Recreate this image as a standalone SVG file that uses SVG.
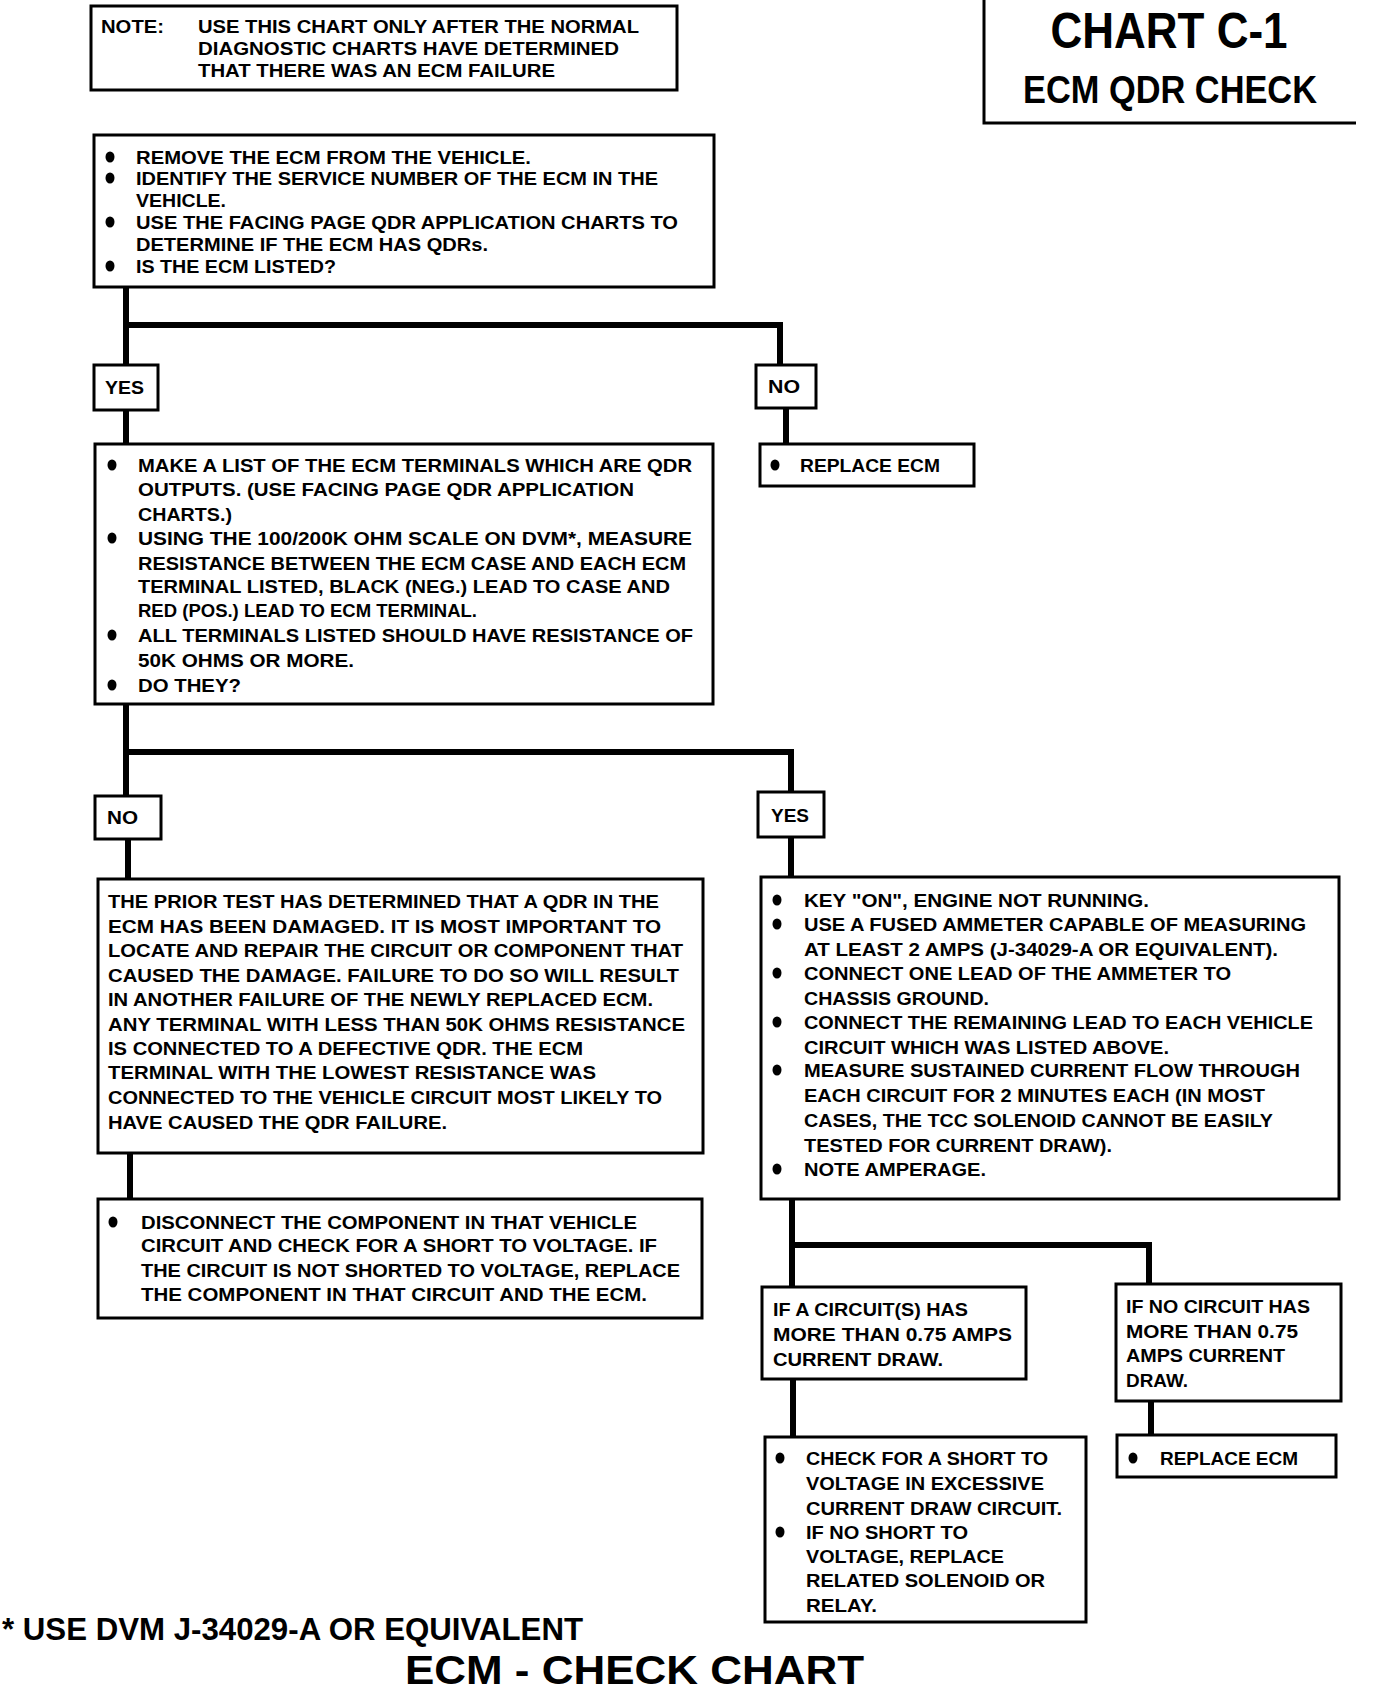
<svg xmlns="http://www.w3.org/2000/svg" width="1376" height="1694" viewBox="0 0 1376 1694">
<style>
.box{fill:#fff;stroke:#000;stroke-width:3}
.c{fill:none;stroke:#000;stroke-width:6;stroke-linecap:butt;stroke-linejoin:miter}
.t{font-family:"Liberation Sans",Arial,sans-serif;font-weight:bold;font-size:19px;fill:#000}
.b{fill:#000}
</style>
<rect width="1376" height="1694" fill="#fff"/>
<g id="connectors">
<path class="c" d="M126 287 V365 M126 325 H780 V365"/>
<path class="c" d="M126 410 V444 M786 408 V444"/>
<path class="c" d="M126 704 V796 M126 752 H791 V792"/>
<path class="c" d="M128 839 V879 M791 837 V877"/>
<path class="c" d="M130 1153 V1199"/>
<path class="c" d="M792 1199 V1287 M792 1245 H1149 V1284"/>
<path class="c" d="M793 1379 V1437"/>
<path class="c" d="M1151 1401 V1435"/>
</g>
<g id="note">
<rect class="box" x="91" y="6" width="586" height="84"/>
<text class="t" x="101" y="33" textLength="63" lengthAdjust="spacingAndGlyphs">NOTE:</text>
<text class="t" x="198" y="33" textLength="441" lengthAdjust="spacingAndGlyphs">USE THIS CHART ONLY AFTER THE NORMAL</text>
<text class="t" x="198" y="55" textLength="421" lengthAdjust="spacingAndGlyphs">DIAGNOSTIC CHARTS HAVE DETERMINED</text>
<text class="t" x="198" y="77" textLength="357" lengthAdjust="spacingAndGlyphs">THAT THERE WAS AN ECM FAILURE</text>
</g>
<g id="title">
<path d="M984 0 V123 H1356" fill="none" stroke="#000" stroke-width="3"/>
<text x="1169" y="48" text-anchor="middle" font-family="Liberation Sans,Arial,sans-serif" font-weight="bold" font-size="50" textLength="237" lengthAdjust="spacingAndGlyphs">CHART C-1</text>
<text x="1170" y="103" text-anchor="middle" font-family="Liberation Sans,Arial,sans-serif" font-weight="bold" font-size="39" textLength="294" lengthAdjust="spacingAndGlyphs">ECM QDR CHECK</text>
</g>
<g id="box1">
<rect class="box" x="94" y="135" width="620" height="152"/>
<ellipse class="b" cx="110" cy="157" rx="4.5" ry="5.5"/>
<ellipse class="b" cx="110" cy="178" rx="4.5" ry="5.5"/>
<ellipse class="b" cx="110" cy="222" rx="4.5" ry="5.5"/>
<ellipse class="b" cx="110" cy="266" rx="4.5" ry="5.5"/>
<text class="t" x="136" y="164" textLength="395" lengthAdjust="spacingAndGlyphs">REMOVE THE ECM FROM THE  VEHICLE.</text>
<text class="t" x="136" y="185" textLength="522" lengthAdjust="spacingAndGlyphs">IDENTIFY THE SERVICE NUMBER OF THE ECM IN THE</text>
<text class="t" x="136" y="207" textLength="90" lengthAdjust="spacingAndGlyphs">VEHICLE.</text>
<text class="t" x="136" y="229" textLength="542" lengthAdjust="spacingAndGlyphs">USE THE FACING PAGE QDR APPLICATION CHARTS TO</text>
<text class="t" x="136" y="251" textLength="352" lengthAdjust="spacingAndGlyphs">DETERMINE IF THE ECM HAS QDRs.</text>
<text class="t" x="136" y="273" textLength="200" lengthAdjust="spacingAndGlyphs">IS THE ECM LISTED?</text>
</g>
<g id="yes1">
<rect class="box" x="94" y="365" width="64" height="45"/>
<text class="t" x="105" y="394" textLength="39" lengthAdjust="spacingAndGlyphs">YES</text>
</g>
<g id="no1">
<rect class="box" x="756" y="365" width="60" height="43"/>
<text class="t" x="768" y="393" textLength="32" lengthAdjust="spacingAndGlyphs">NO</text>
</g>
<g id="replace1">
<rect class="box" x="760" y="444" width="214" height="42"/>
<ellipse class="b" cx="775" cy="465" rx="4.5" ry="5.5"/>
<text class="t" x="800" y="472" textLength="140" lengthAdjust="spacingAndGlyphs">REPLACE ECM</text>
</g>
<g id="box2">
<rect class="box" x="95" y="444" width="618" height="260"/>
<ellipse class="b" cx="112" cy="465" rx="4.5" ry="5.5"/>
<ellipse class="b" cx="112" cy="538" rx="4.5" ry="5.5"/>
<ellipse class="b" cx="112" cy="635" rx="4.5" ry="5.5"/>
<ellipse class="b" cx="112" cy="685" rx="4.5" ry="5.5"/>
<text class="t" x="138" y="472" textLength="554" lengthAdjust="spacingAndGlyphs">MAKE A LIST OF THE ECM TERMINALS WHICH ARE QDR</text>
<text class="t" x="138" y="496" textLength="496" lengthAdjust="spacingAndGlyphs">OUTPUTS.  (USE FACING PAGE QDR APPLICATION</text>
<text class="t" x="138" y="521" textLength="94" lengthAdjust="spacingAndGlyphs">CHARTS.)</text>
<text class="t" x="138" y="545" textLength="554" lengthAdjust="spacingAndGlyphs">USING THE 100/200K OHM SCALE ON DVM*, MEASURE</text>
<text class="t" x="138" y="570" textLength="548" lengthAdjust="spacingAndGlyphs">RESISTANCE BETWEEN THE ECM CASE AND EACH ECM</text>
<text class="t" x="138" y="593" textLength="532" lengthAdjust="spacingAndGlyphs">TERMINAL LISTED, BLACK (NEG.) LEAD TO CASE AND</text>
<text class="t" x="138" y="617" textLength="339" lengthAdjust="spacingAndGlyphs">RED (POS.) LEAD TO ECM TERMINAL.</text>
<text class="t" x="138" y="642" textLength="555" lengthAdjust="spacingAndGlyphs">ALL TERMINALS LISTED SHOULD HAVE RESISTANCE OF</text>
<text class="t" x="138" y="667" textLength="216" lengthAdjust="spacingAndGlyphs">50K OHMS OR MORE.</text>
<text class="t" x="138" y="692" textLength="103" lengthAdjust="spacingAndGlyphs">DO THEY?</text>
</g>
<g id="no2">
<rect class="box" x="95" y="796" width="66" height="43"/>
<text class="t" x="107" y="824" textLength="31" lengthAdjust="spacingAndGlyphs">NO</text>
</g>
<g id="yes2">
<rect class="box" x="758" y="792" width="66" height="45"/>
<text class="t" x="771" y="822" textLength="38" lengthAdjust="spacingAndGlyphs">YES</text>
</g>
<g id="box3">
<rect class="box" x="98" y="879" width="605" height="274"/>
<text class="t" x="108" y="908" textLength="551" lengthAdjust="spacingAndGlyphs">THE PRIOR TEST HAS DETERMINED THAT A QDR IN THE</text>
<text class="t" x="108" y="933" textLength="553" lengthAdjust="spacingAndGlyphs">ECM HAS BEEN DAMAGED.  IT IS MOST IMPORTANT TO</text>
<text class="t" x="108" y="957" textLength="575" lengthAdjust="spacingAndGlyphs">LOCATE AND REPAIR THE CIRCUIT OR COMPONENT THAT</text>
<text class="t" x="108" y="982" textLength="571" lengthAdjust="spacingAndGlyphs">CAUSED THE DAMAGE.  FAILURE TO DO SO WILL RESULT</text>
<text class="t" x="108" y="1006" textLength="545" lengthAdjust="spacingAndGlyphs">IN ANOTHER FAILURE OF THE NEWLY REPLACED ECM.</text>
<text class="t" x="108" y="1031" textLength="577" lengthAdjust="spacingAndGlyphs">ANY TERMINAL WITH LESS THAN 50K OHMS RESISTANCE</text>
<text class="t" x="108" y="1055" textLength="475" lengthAdjust="spacingAndGlyphs">IS CONNECTED TO A DEFECTIVE QDR.  THE ECM</text>
<text class="t" x="108" y="1079" textLength="488" lengthAdjust="spacingAndGlyphs">TERMINAL WITH THE LOWEST RESISTANCE WAS</text>
<text class="t" x="108" y="1104" textLength="554" lengthAdjust="spacingAndGlyphs">CONNECTED TO THE VEHICLE CIRCUIT MOST LIKELY TO</text>
<text class="t" x="108" y="1129" textLength="339" lengthAdjust="spacingAndGlyphs">HAVE CAUSED THE QDR FAILURE.</text>
</g>
<g id="box4">
<rect class="box" x="761" y="877" width="578" height="322"/>
<ellipse class="b" cx="777" cy="900" rx="4.5" ry="5.5"/>
<ellipse class="b" cx="777" cy="924" rx="4.5" ry="5.5"/>
<ellipse class="b" cx="777" cy="973" rx="4.5" ry="5.5"/>
<ellipse class="b" cx="777" cy="1022" rx="4.5" ry="5.5"/>
<ellipse class="b" cx="777" cy="1070" rx="4.5" ry="5.5"/>
<ellipse class="b" cx="777" cy="1169" rx="4.5" ry="5.5"/>
<text class="t" x="804" y="907" textLength="345" lengthAdjust="spacingAndGlyphs">KEY "ON", ENGINE NOT RUNNING.</text>
<text class="t" x="804" y="931" textLength="502" lengthAdjust="spacingAndGlyphs">USE A FUSED AMMETER CAPABLE OF MEASURING</text>
<text class="t" x="804" y="956" textLength="474" lengthAdjust="spacingAndGlyphs">AT LEAST 2 AMPS (J-34029-A OR EQUIVALENT).</text>
<text class="t" x="804" y="980" textLength="427" lengthAdjust="spacingAndGlyphs">CONNECT ONE LEAD OF THE AMMETER TO</text>
<text class="t" x="804" y="1005" textLength="185" lengthAdjust="spacingAndGlyphs">CHASSIS GROUND.</text>
<text class="t" x="804" y="1029" textLength="509" lengthAdjust="spacingAndGlyphs">CONNECT THE REMAINING LEAD TO EACH VEHICLE</text>
<text class="t" x="804" y="1054" textLength="365" lengthAdjust="spacingAndGlyphs">CIRCUIT WHICH WAS LISTED ABOVE.</text>
<text class="t" x="804" y="1077" textLength="496" lengthAdjust="spacingAndGlyphs">MEASURE SUSTAINED CURRENT FLOW THROUGH</text>
<text class="t" x="804" y="1102" textLength="461" lengthAdjust="spacingAndGlyphs">EACH CIRCUIT FOR 2 MINUTES EACH (IN MOST</text>
<text class="t" x="804" y="1127" textLength="469" lengthAdjust="spacingAndGlyphs">CASES, THE TCC SOLENOID CANNOT BE EASILY</text>
<text class="t" x="804" y="1152" textLength="308" lengthAdjust="spacingAndGlyphs">TESTED FOR CURRENT DRAW).</text>
<text class="t" x="804" y="1176" textLength="182" lengthAdjust="spacingAndGlyphs">NOTE AMPERAGE.</text>
</g>
<g id="box5">
<rect class="box" x="98" y="1199" width="604" height="119"/>
<ellipse class="b" cx="113" cy="1222" rx="4.5" ry="5.5"/>
<text class="t" x="141" y="1229" textLength="496" lengthAdjust="spacingAndGlyphs">DISCONNECT THE COMPONENT IN THAT VEHICLE</text>
<text class="t" x="141" y="1252" textLength="516" lengthAdjust="spacingAndGlyphs">CIRCUIT AND CHECK FOR A SHORT TO VOLTAGE.  IF</text>
<text class="t" x="141" y="1277" textLength="539" lengthAdjust="spacingAndGlyphs">THE CIRCUIT IS NOT SHORTED TO VOLTAGE, REPLACE</text>
<text class="t" x="141" y="1301" textLength="506" lengthAdjust="spacingAndGlyphs">THE COMPONENT IN THAT CIRCUIT AND THE ECM.</text>
</g>
<g id="box6">
<rect class="box" x="762" y="1287" width="264" height="92"/>
<text class="t" x="773" y="1316" textLength="195" lengthAdjust="spacingAndGlyphs">IF A CIRCUIT(S) HAS</text>
<text class="t" x="773" y="1341" textLength="239" lengthAdjust="spacingAndGlyphs">MORE THAN 0.75 AMPS</text>
<text class="t" x="773" y="1366" textLength="170" lengthAdjust="spacingAndGlyphs">CURRENT DRAW.</text>
</g>
<g id="box7">
<rect class="box" x="1116" y="1284" width="225" height="117"/>
<text class="t" x="1126" y="1313" textLength="184" lengthAdjust="spacingAndGlyphs">IF NO CIRCUIT HAS</text>
<text class="t" x="1126" y="1338" textLength="172" lengthAdjust="spacingAndGlyphs">MORE THAN 0.75</text>
<text class="t" x="1126" y="1362" textLength="159" lengthAdjust="spacingAndGlyphs">AMPS CURRENT</text>
<text class="t" x="1126" y="1387" textLength="62" lengthAdjust="spacingAndGlyphs">DRAW.</text>
</g>
<g id="box8">
<rect class="box" x="765" y="1437" width="321" height="185"/>
<ellipse class="b" cx="780" cy="1458" rx="4.5" ry="5.5"/>
<ellipse class="b" cx="780" cy="1532" rx="4.5" ry="5.5"/>
<text class="t" x="806" y="1465" textLength="242" lengthAdjust="spacingAndGlyphs">CHECK FOR A SHORT TO</text>
<text class="t" x="806" y="1490" textLength="238" lengthAdjust="spacingAndGlyphs">VOLTAGE IN EXCESSIVE</text>
<text class="t" x="806" y="1515" textLength="256" lengthAdjust="spacingAndGlyphs">CURRENT DRAW CIRCUIT.</text>
<text class="t" x="806" y="1539" textLength="162" lengthAdjust="spacingAndGlyphs">IF NO SHORT TO</text>
<text class="t" x="806" y="1563" textLength="198" lengthAdjust="spacingAndGlyphs">VOLTAGE, REPLACE</text>
<text class="t" x="806" y="1587" textLength="239" lengthAdjust="spacingAndGlyphs">RELATED SOLENOID OR</text>
<text class="t" x="806" y="1612" textLength="71" lengthAdjust="spacingAndGlyphs">RELAY.</text>
</g>
<g id="box9">
<rect class="box" x="1117" y="1435" width="219" height="42"/>
<ellipse class="b" cx="1133" cy="1458" rx="4.5" ry="5.5"/>
<text class="t" x="1160" y="1465" textLength="138" lengthAdjust="spacingAndGlyphs">REPLACE ECM</text>
</g>
<g id="footer">
<text x="2" y="1640" font-family="Liberation Sans,Arial,sans-serif" font-weight="bold" font-size="32" textLength="581" lengthAdjust="spacingAndGlyphs">* USE DVM J-34029-A OR EQUIVALENT</text>
<text x="405" y="1684" font-family="Liberation Sans,Arial,sans-serif" font-weight="bold" font-size="40" textLength="459" lengthAdjust="spacingAndGlyphs">ECM - CHECK CHART</text>
</g>
</svg>
